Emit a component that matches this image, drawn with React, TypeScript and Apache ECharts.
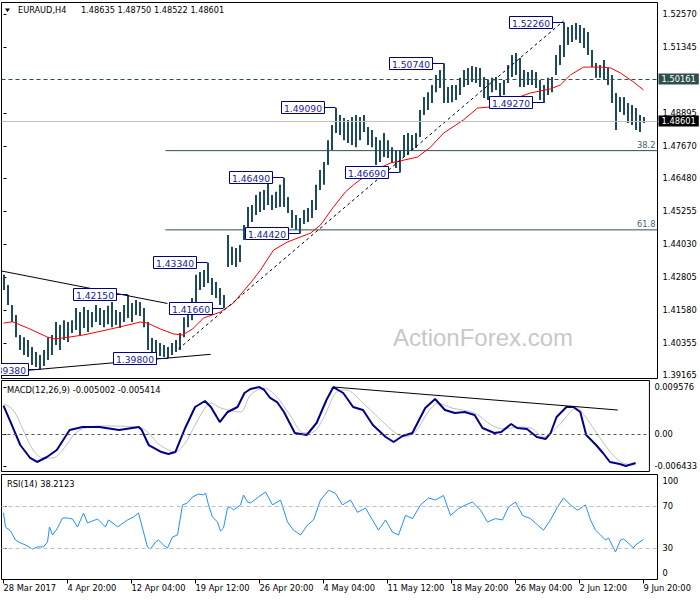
import React, { useEffect, useRef } from "react";
import * as echarts from "echarts";

const FONT = '"DejaVu Sans", Verdana, sans-serif';
const BAR_COLOR = "#1d4b5d";
const NAVY = "#000080";

const symbolName = "EURAUD,H4";
const lastOHLC = [1.48635, 1.4875, 1.48522, 1.48601];
const macdHeader = [-0.005002, -0.005414];
const rsiHeader = 38.2123;

const timeLabels = ["28 Mar 2017", "4 Apr 20:00", "12 Apr 04:00", "19 Apr 12:00", "26 Apr 20:00", "4 May 04:00", "11 May 12:00", "18 May 20:00", "26 May 04:00", "2 Jun 12:00", "9 Jun 20:00"];
const timeLabelIdx = [0, 16, 32, 48, 64, 80, 96, 112, 128, 144, 160];

const priceTicks = [1.5257, 1.51345, 1.48895, 1.4767, 1.4648, 1.45255, 1.4403, 1.42805, 1.4158, 1.40355, 1.39165];
const macdTicks = [0.009576, 0, -0.006433];
const rsiTicks = [100, 70, 30, 0];

const highs = [
  1.4289, 1.4251, 1.4177, 1.4140, 1.4066, 1.4058, 1.4047, 1.4021, 1.4003, 1.3992,
  1.4010, 1.4058, 1.4066, 1.4114, 1.4103, 1.4121, 1.4114, 1.4121, 1.4166, 1.4151,
  1.4170, 1.4159, 1.4151, 1.4177, 1.4166, 1.4159, 1.4174, 1.4188, 1.4159, 1.4151,
  1.4177, 1.4215, 1.4185, 1.4196, 1.4188, 1.4166, 1.4114, 1.4055, 1.4047, 1.4036,
  1.4029, 1.4021, 1.4036, 1.4047, 1.4073, 1.4132, 1.4188, 1.4203, 1.4289, 1.4300,
  1.4307, 1.4334, 1.4277, 1.4263, 1.4240, 1.4214, 1.4437, 1.4393, 1.4389, 1.4400,
  1.4474, 1.4541, 1.4548, 1.4585, 1.4597, 1.4604, 1.4645, 1.4585, 1.4597, 1.4623,
  1.4649, 1.4578, 1.4530, 1.4511, 1.4500, 1.4530, 1.4537, 1.4567, 1.4623, 1.4678,
  1.4708, 1.4789, 1.4845, 1.4909, 1.4882, 1.4871, 1.4864, 1.4875, 1.4882, 1.4875,
  1.4882, 1.4838, 1.4827, 1.4801, 1.4789, 1.4815, 1.4789, 1.4763, 1.4752, 1.4752,
  1.4808, 1.4815, 1.4808, 1.4815, 1.4901, 1.4949, 1.4967, 1.4994, 1.5031, 1.5049,
  1.5074, 1.4986, 1.4994, 1.4994, 1.5020, 1.5049, 1.5057, 1.5064, 1.5060, 1.5057,
  1.5023, 1.5012, 1.5020, 1.5023, 1.5001, 1.5012, 1.5068, 1.5105, 1.5112, 1.5094,
  1.5049, 1.5042, 1.5049, 1.5042, 1.5012, 1.4994, 1.5020, 1.5023, 1.5105, 1.5142,
  1.5226, 1.5209, 1.5216, 1.5224, 1.5216, 1.5205, 1.5190, 1.5123, 1.5075, 1.5068,
  1.5086, 1.5057, 1.5031, 1.4964, 1.4949, 1.4949, 1.4927, 1.4919, 1.4908, 1.4882,
  1.4875,
];
const lows = [
  1.4233, 1.4177, 1.4114, 1.4058, 1.4010, 1.3992, 1.3984, 1.3955, 1.3947, 1.3938,
  1.3951, 1.3973, 1.3992, 1.4029, 1.4010, 1.4047, 1.4040, 1.4073, 1.4084, 1.4066,
  1.4092, 1.4077, 1.4095, 1.4114, 1.4103, 1.4095, 1.4106, 1.4095, 1.4103, 1.4092,
  1.4114, 1.4129, 1.4114, 1.4140, 1.4136, 1.4095, 1.4010, 1.3992, 1.3984, 1.3988,
  1.3984, 1.3980, 1.3992, 1.4003, 1.4010, 1.4058, 1.4095, 1.4121, 1.4185, 1.4233,
  1.4244, 1.4259, 1.4214, 1.4203, 1.4177, 1.4166, 1.4318, 1.4326, 1.4318, 1.4337,
  1.4418, 1.4463, 1.4485, 1.4511, 1.4522, 1.4530, 1.4548, 1.4530, 1.4537, 1.4541,
  1.4541, 1.4519, 1.4463, 1.4456, 1.4442, 1.4478, 1.4485, 1.4500, 1.4530, 1.4604,
  1.4623, 1.4697, 1.4752, 1.4815, 1.4808, 1.4789, 1.4778, 1.4771, 1.4763, 1.4789,
  1.4819, 1.4771, 1.4763, 1.4697, 1.4708, 1.4726, 1.4723, 1.4704, 1.4686, 1.4669,
  1.4726, 1.4734, 1.4752, 1.4760, 1.4801, 1.4882, 1.4901, 1.4927, 1.4967, 1.4982,
  1.4927, 1.4927, 1.4930, 1.4938, 1.4956, 1.4986, 1.4994, 1.5005, 1.5001, 1.4986,
  1.4945, 1.4938, 1.4967, 1.4975, 1.4949, 1.4956, 1.5001, 1.5023, 1.5031, 1.4986,
  1.4986, 1.4994, 1.4994, 1.4982, 1.4938, 1.4927, 1.4956, 1.4967, 1.5031, 1.5068,
  1.5097, 1.5142, 1.5153, 1.5161, 1.5149, 1.5131, 1.5105, 1.5060, 1.5020, 1.5020,
  1.5012, 1.4994, 1.4927, 1.4827, 1.4893, 1.4882, 1.4853, 1.4845, 1.4827, 1.4819,
  1.48522,
];

const maLine = [
  [0, 1.4110], [2.25, 1.4115], [6, 1.4092], [11, 1.4058], [13, 1.4051], [20, 1.4066], [26.75, 1.4088],
  [30, 1.4099], [34.25, 1.4114], [36, 1.4110], [39.25, 1.4088], [42.5, 1.4070], [44.75, 1.4066],
  [47.25, 1.4088], [50, 1.4129], [54.25, 1.4151], [57.5, 1.4185], [61.75, 1.4259], [64.25, 1.4307],
  [67.5, 1.4381], [71, 1.4411], [76.75, 1.4444], [79.25, 1.4474], [82.5, 1.4541], [85.5, 1.4597],
  [87.5, 1.4623], [91.75, 1.4671], [96.75, 1.4704], [103.5, 1.4726], [106.75, 1.4763], [110, 1.4815],
  [115, 1.4864], [118.5, 1.4908], [121.75, 1.4912], [126.75, 1.4938], [131.75, 1.4964], [136.75, 1.4979],
  [139.25, 1.4994], [141.75, 1.5031], [145, 1.5060], [149.25, 1.5060], [151.75, 1.5057], [154.25, 1.5038],
  [157.5, 1.5005], [160, 1.4975],
];

const pivots = [
  [9, 1.3938], [31, 1.4215], [41, 1.398], [51, 1.4334], [55, 1.4166], [70, 1.4649],
  [74, 1.4442], [83, 1.4909], [99, 1.4669], [110, 1.5074], [135, 1.4927], [140, 1.5226],
];

const resistanceLevel = 1.50161;
const currentPrice = 1.48601;
const fibStartIdx = 40.5;
const fibValues = [1.475, 1.4456];
const fibNames = ["38.2", "61.8"];

const trendDown = [[-0.5, 1.43034], [41, 1.41828]];
const trendUp = [[-0.5, 1.39264], [51.8, 1.39943]];
const trendDash = [[43.75, 1.4014], [140, 1.5231]];

const macdLine = [
  [0, 0.0058], [1.75, 0.00255], [4.25, -0.00217], [6.75, -0.0048], [8.5, -0.00561], [11, -0.0046],
  [13.5, -0.00318], [16.75, 0.00087], [20, 0.00148], [24.25, 0.00148], [29.25, 0.00087], [34.25, 0.00148],
  [35, 0.00087], [36.75, -0.00217], [40, -0.00359], [41.75, -0.00399], [43.5, -0.00359], [46, 0.00128],
  [48.5, 0.00553], [51, 0.00675], [52.5, 0.00553], [54.75, 0.00249], [56.75, 0.00452], [59.25, 0.00553],
  [61, 0.00837], [62.5, 0.00918], [64.75, 0.00958], [66, 0.00898], [67.5, 0.00736], [69.25, 0.00654],
  [71, 0.00452], [73.75, 0.00026], [76.75, -0.00014], [79.25, 0.00229], [81.75, 0.00695], [83.5, 0.00958],
  [86, 0.00837], [88.5, 0.00553], [91, 0.00492], [93.5, 0.00188], [96.75, -0.00055], [98.75, -0.00156],
  [101, -0.00034], [103.5, 0.00026], [106.75, 0.00533], [109.25, 0.00715], [111.75, 0.00492],
  [114.25, 0.00432], [116.75, 0.00452], [119.25, 0.00391], [121.25, 0.00128], [124.25, 0.00026],
  [126, 0.00047], [128.5, 0.00209], [130, 0.00128], [132.5, 0.00107], [135, -0.00055], [137.25, -0.00095],
  [138.5, 0.00026], [140, 0.00351], [142.5, 0.00553], [144.25, 0.00553], [146, 0.00452], [147.5, -0.00014],
  [150, -0.00217], [151.75, -0.00379], [153.5, -0.00561], [156, -0.00602], [157.5, -0.00642], [160, -0.0058],
];
const signalLine = [
  [0, 0.0062], [2.5, 0.00492], [5, 0.00087], [7.5, -0.00318], [10, -0.0048], [12.5, -0.0048], [15, -0.00318],
  [18.5, 0.00047], [21.75, 0.00148], [24.25, 0.00168], [34.25, 0.00148], [36.75, 0.00026], [39.25, -0.00197],
  [43.5, -0.00359], [46, -0.00176], [48.5, 0.00188], [51, 0.00533], [52.5, 0.00634], [55, 0.00533],
  [60, 0.00452], [62.5, 0.00796], [66, 0.00938], [69.25, 0.00756], [72.5, 0.00391], [76, 0.00026],
  [78.5, 0.00047], [81, 0.0033], [84.25, 0.00857], [86.75, 0.00898], [91, 0.00634], [95, 0.0033],
  [99.25, 0.00026], [101.75, -0.00055], [104.25, 0.00047], [107.5, 0.00452], [110, 0.00634], [113.5, 0.00533],
  [119.25, 0.00432], [123.5, 0.00188], [126.75, 0.00107], [130, 0.00148], [133.5, 0.00128], [136.75, -0.00055],
  [140, 0.00128], [143.5, 0.00452], [145, 0.00533], [147.5, 0.0033], [151, -0.00075], [154.25, -0.00419],
  [156.75, -0.00582], [160, -0.00622],
];
const macdTrend = [[83.5, 0.00958], [155.5, 0.00492]];

const rsiLine = [
  [0, 63.6], [0.5, 50], [1.75, 46.2], [3, 37.6], [4.25, 34.8], [5.5, 32.9], [7.25, 29], [8.5, 31], [10, 31],
  [11, 35.7], [11.5, 50], [12.25, 42.4], [13.5, 49], [14.75, 58.6], [16, 58.6], [17.25, 57.6], [18.5, 50],
  [20, 63.3], [21, 53.8], [23.5, 57.6], [25.5, 50], [26.25, 56.7], [28, 51.9], [28.5, 50], [31, 56.7],
  [32.5, 59.5], [33.75, 63.3], [35, 45.2], [36, 31], [36.75, 29], [38, 35.7], [38.75, 37.6], [40, 32.9],
  [41, 30], [42.25, 40.5], [43.5, 42.4], [44.75, 71], [46, 72.9], [47.25, 78.6], [48.75, 81.4], [50, 80.5],
  [50.5, 82.4], [51.25, 71], [52.25, 59.5], [53.5, 54.8], [54.25, 46.2], [55, 49], [56, 68.1], [56.75, 69],
  [57.5, 66.2], [59.25, 71], [60, 80.5], [61, 73.8], [61.75, 72.9], [63.75, 78.6], [65.5, 83.3], [67.25, 71],
  [69.25, 75.7], [71, 54.8], [72.5, 47], [74.25, 42.4], [76, 51.9], [77.5, 56.7], [79.25, 75.7], [81.25, 85],
  [83, 82], [84.75, 71], [86.75, 75.7], [88.5, 64], [90.5, 68], [92.25, 56.7], [93.75, 47], [95.5, 56.7],
  [97.25, 45], [98.75, 42.4], [100.5, 61], [102.25, 58], [104.25, 71], [106.25, 77.6], [108, 75.7], [110, 80],
  [111.75, 61], [113.75, 67.6], [115.5, 71], [117.25, 73.8], [119.25, 66], [121, 54.8], [123, 58],
  [124.75, 56.7], [126.25, 69], [128, 73.8], [129.75, 61], [131.75, 58], [133.5, 52], [135, 47], [136.75, 56.7],
  [138.5, 69], [140, 77.6], [141.75, 71], [143.5, 66], [145.5, 71], [146.75, 56.7], [148, 47], [149.25, 42.4],
  [150.5, 37.6], [151.25, 39.5], [153, 26.2], [154.25, 37.6], [155, 38.6], [156.75, 32.9], [157.5, 30],
  [158, 32.9], [158.75, 34.8], [160, 38.2],
];

const X_MIN = -0.5;
const X_MAX = 163.5;

export default function App() {
  const ref = useRef<HTMLDivElement>(null);
  useEffect(() => {
    if (!ref.current) return;
    const chart = echarts.init(ref.current, undefined, { renderer: "svg" });
    const lbl = { fontFamily: FONT, fontSize: 8.3, color: "#000" };
    const xAxes = [0, 1, 2].map((g) => ({
      type: "value",
      gridIndex: g,
      min: X_MIN,
      max: X_MAX,
      axisLine: { show: false },
      splitLine: { show: false },
      axisTick: g === 2 ? { show: true, length: 4, lineStyle: { color: "#000" }, customValues: timeLabelIdx } : { show: false },
      axisLabel: g === 2
        ? { show: true, ...lbl, align: "left", margin: 4, customValues: timeLabelIdx, formatter: (v: number) => timeLabels[timeLabelIdx.indexOf(v)] ?? "" }
        : { show: false },
    }));
    const yBase = {
      type: "value",
      position: "right",
      axisLine: { show: false },
      splitLine: { show: false },
    };
    const option: any = {
      animation: false,
      backgroundColor: "#fff",
      textStyle: { fontFamily: FONT },
      grid: [
        { left: 1.5, top: 2.5, width: 656, height: 376, show: true, borderColor: "#000", borderWidth: 1 },
        { left: 1.5, top: 380.5, width: 656, height: 91, show: true, borderColor: "#000", borderWidth: 1 },
        { left: 1.5, top: 474.5, width: 656, height: 105, show: true, borderColor: "#000", borderWidth: 1 },
      ],
      xAxis: xAxes,
      yAxis: [
        {
          ...yBase, gridIndex: 0, min: 1.390449, max: 1.529967,
          axisTick: { show: true, length: 3, lineStyle: { color: "#000" }, customValues: priceTicks },
          axisLabel: { ...lbl, margin: 5, customValues: priceTicks, formatter: (v: number) => v.toFixed(5) },
        },
        {
          ...yBase, gridIndex: 1, min: -0.007538, max: 0.010901,
          axisTick: { show: true, length: 3, lineStyle: { color: "#000" }, customValues: macdTicks },
          axisLabel: { ...lbl, margin: 5, customValues: macdTicks, formatter: (v: number) => (v === 0 ? "0.00" : v.toFixed(6)) },
        },
        {
          ...yBase, gridIndex: 2, min: 0, max: 100,
          axisTick: { show: true, length: 3, lineStyle: { color: "#000" }, customValues: rsiTicks },
          axisLabel: {
            ...lbl, margin: 5, customValues: rsiTicks,
            formatter: (v: number) => (v === 100 ? "{t|100}" : v === 0 ? "{b|0}" : String(v)),
            rich: {
              t: { padding: [13, 0, 0, 0], fontFamily: FONT, fontSize: 8.3, color: "#000" },
              b: { padding: [0, 0, 13, 0], fontFamily: FONT, fontSize: 8.3, color: "#000" },
            },
          },
        },
      ],
      graphic: [
        { type: "polygon", shape: { points: [[5, 8.5], [10, 8.5], [7.5, 12]] }, style: { fill: "#000" } },
        { type: "text", x: 18, y: 10, style: { text: symbolName, font: `8.2px ${FONT}`, fill: "#000", verticalAlign: "middle" } },
        { type: "text", x: 81, y: 10, style: { text: lastOHLC.map((v) => v.toFixed(5)).join(" "), font: `8.2px ${FONT}`, fill: "#000", verticalAlign: "middle" } },
        { type: "text", x: 7, y: 390, style: { text: `MACD(12,26,9) ${macdHeader[0].toFixed(6)} ${macdHeader[1].toFixed(6)}`, font: `8.3px ${FONT}`, fill: "#000", verticalAlign: "middle" } },
        { type: "text", x: 7, y: 484, style: { text: `RSI(14) ${rsiHeader}`, font: `8.3px ${FONT}`, fill: "#000", verticalAlign: "middle" } },
        { type: "text", x: 393, y: 337, z: 1, style: { text: "ActionForex.com", font: '24px "Liberation Sans", Arial, sans-serif', fill: "#c8c8c8", verticalAlign: "middle" } },
      ],
      series: [
        {
          type: "custom",
          name: "bars",
          xAxisIndex: 0,
          yAxisIndex: 0,
          z: 3,
          encode: { x: 0, y: [1, 2] },
          data: highs.map((h, i) => [i, h, lows[i]]),
          renderItem: (params: any, api: any) => {
            const i = api.value(0);
            const top = api.coord([i, api.value(1)]);
            const bot = api.coord([i, api.value(2)]);
            const x = Math.round(top[0]);
            return { type: "line", shape: { x1: x, y1: top[1], x2: x, y2: bot[1] }, style: { stroke: BAR_COLOR, lineWidth: 2 } };
          },
        },
        {
          type: "line",
          name: "ma",
          xAxisIndex: 0,
          yAxisIndex: 0,
          z: 4,
          data: maLine,
          symbol: "none",
          lineStyle: { color: "#ff0000", width: 1 },
          markLine: {
            silent: true,
            symbol: "none",
            precision: 5,
            animation: false,
            data: [
              {
                yAxis: resistanceLevel,
                lineStyle: { color: "#2f4f4f", type: [4, 3], width: 1 },
                label: { show: true, position: "end", distance: 1, formatter: resistanceLevel.toFixed(5), backgroundColor: "#2f4f4f", color: "#fff", padding: [2, 3, 1, 3], fontFamily: FONT, fontSize: 8.3 },
              },
              {
                yAxis: currentPrice,
                lineStyle: { color: "#c0c0c0", type: "solid", width: 1 },
                label: { show: true, position: "end", distance: 1, formatter: currentPrice.toFixed(5), backgroundColor: "#000", color: "#fff", padding: [2, 3, 1, 3], fontFamily: FONT, fontSize: 8.3 },
              },
            ],
          },
        },
        ...[trendDown, trendUp, trendDash].map((d, k) => ({
          type: "line",
          xAxisIndex: 0,
          yAxisIndex: 0,
          z: 4,
          data: d,
          symbol: "none",
          lineStyle: { color: "#000", width: 1, type: k === 2 ? [3, 3] : "solid" },
        })),
        ...fibValues.map((v) => ({
          type: "line",
          xAxisIndex: 0,
          yAxisIndex: 0,
          z: 2,
          data: [[fibStartIdx, v], [X_MAX, v]],
          symbol: "none",
          lineStyle: { color: "#2f4f4f", width: 1 },
        })),
        {
          type: "custom",
          name: "fibLabels",
          xAxisIndex: 0,
          yAxisIndex: 0,
          z: 5,
          data: fibValues.map((v) => [X_MAX, v]),
          renderItem: (params: any, api: any) => {
            const p = api.coord([api.value(0), api.value(1)]);
            return { type: "text", x: p[0] - 2, y: p[1] - 2, style: { text: fibNames[params.dataIndex], align: "right", verticalAlign: "bottom", font: `8.3px ${FONT}`, fill: "#4a6270" } };
          },
        },
        {
          type: "custom",
          name: "pivots",
          xAxisIndex: 0,
          yAxisIndex: 0,
          z: 10,
          clip: true,
          data: pivots,
          renderItem: (params: any, api: any) => {
            const price = api.value(1);
            const p = api.coord([api.value(0), price]);
            const bx = Math.round(p[0] - 0.5) + 0.5;
            const by = Math.round(p[1] - 0.5) + 0.5;
            const right = bx - 11;
            const w = 43;
            const h = 12;
            return {
              type: "group",
              children: [
                { type: "line", shape: { x1: right, y1: by, x2: bx, y2: by }, style: { stroke: NAVY, lineWidth: 1 } },
                { type: "rect", shape: { x: right - w, y: by - h / 2, width: w, height: h }, style: { fill: "#fff", stroke: NAVY, lineWidth: 1 } },
                { type: "text", x: right - w / 2, y: by + 0.5, style: { text: price.toFixed(5), align: "center", verticalAlign: "middle", font: `9.2px ${FONT}`, fill: "#1a1a9a" } },
              ],
            };
          },
        },
        {
          type: "line",
          name: "MACD",
          xAxisIndex: 1,
          yAxisIndex: 1,
          z: 4,
          data: macdLine,
          symbol: "none",
          lineStyle: { color: "#00008b", width: 2 },
          markLine: {
            silent: true,
            symbol: "none",
            label: { show: false },
            lineStyle: { color: "#555", type: [3, 3], width: 1 },
            data: [{ yAxis: 0 }],
          },
        },
        {
          type: "line",
          name: "signal",
          xAxisIndex: 1,
          yAxisIndex: 1,
          z: 3,
          data: signalLine,
          symbol: "none",
          smooth: 0.3,
          lineStyle: { color: "#c0c0c0", width: 1 },
        },
        {
          type: "line",
          xAxisIndex: 1,
          yAxisIndex: 1,
          z: 4,
          data: macdTrend,
          symbol: "none",
          lineStyle: { color: "#000", width: 1 },
        },
        {
          type: "line",
          name: "RSI",
          xAxisIndex: 2,
          yAxisIndex: 2,
          z: 4,
          data: rsiLine,
          symbol: "none",
          lineStyle: { color: "#1e90ff", width: 1 },
          markLine: {
            silent: true,
            symbol: "none",
            label: { show: false },
            lineStyle: { color: "#c0c0c0", type: [4, 3], width: 1 },
            data: [{ yAxis: 70 }, { yAxis: 30 }],
          },
        },
      ],
    };
    chart.setOption(option);
    return () => chart.dispose();
  }, []);
  return <div ref={ref} style={{ position: "absolute", left: 0, top: 0, width: 700, height: 600 }} />;
}
